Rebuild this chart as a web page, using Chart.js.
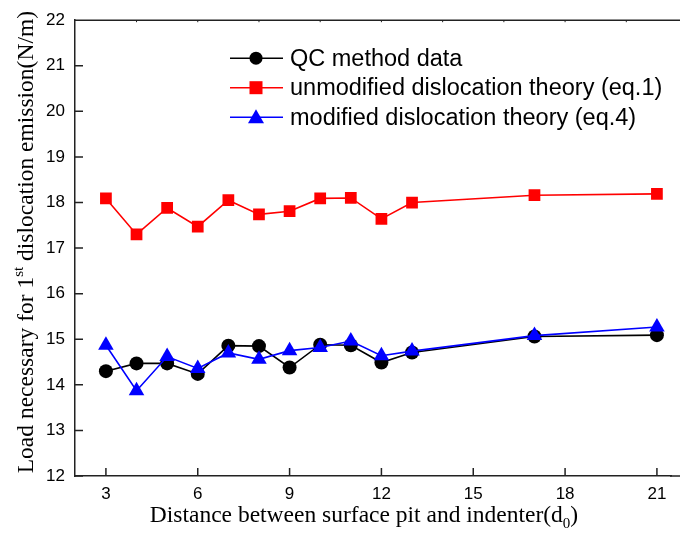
<!DOCTYPE html>
<html>
<head>
<meta charset="utf-8">
<script src="https://cdn.jsdelivr.net/npm/chart.js@4"></script>
<style>
  body { margin: 0; background: #fff; }
  #wrap { width: 680px; height: 534px; }
</style>
</head>
<body>
<div id="wrap"><canvas id="chart"></canvas></div>
<script>
const distances = [3, 4, 5, 6, 7, 8, 9, 10, 11, 12, 13, 17, 21]
const qcData = [14.30, 14.47, 14.47, 14.24, 14.86, 14.85, 14.38, 14.88, 14.87, 14.49, 14.71, 15.06, 15.09]
const unmodified = [18.09, 17.30, 17.88, 17.47, 18.05, 17.74, 17.81, 18.09, 18.10, 17.64, 18.00, 18.16, 18.19]
const modified = [14.87, 13.87, 14.62, 14.36, 14.70, 14.56, 14.75, 14.82, 14.96, 14.64, 14.74, 15.08, 15.27]
const xTicks = [3, 6, 9, 12, 15, 18, 21]
const xTopTicks = [4, 6, 8, 10, 12, 14, 16, 18, 20]
const yTicks = [12, 13, 14, 15, 16, 17, 18, 19, 20, 21, 22]

const canvas = document.querySelector('#chart')

function pts(values) {
    return distances.map((d, i) => ({ x: d, y: values[i] }))
}

// axis ticks (inward), frame top line, axis titles and legend
const extras = {
    id: 'extras',
    afterDraw(chart) {
        const ctx = chart.ctx
        const a = chart.chartArea
        const xs = chart.scales.x
        const ys = chart.scales.y
        ctx.save()
        ctx.strokeStyle = '#222'
        ctx.lineWidth = 1.5
        ctx.beginPath()
        // frame runs off the right edge of the picture
        ctx.moveTo(a.left, a.top)
        ctx.lineTo(chart.width, a.top)
        ctx.moveTo(a.right - 1, a.bottom)
        ctx.lineTo(chart.width, a.bottom)
        xTicks.forEach(v => {
            const px = xs.getPixelForValue(v)
            ctx.moveTo(px, a.bottom)
            ctx.lineTo(px, a.bottom - 8)
        })
        yTicks.forEach(v => {
            const py = ys.getPixelForValue(v)
            ctx.moveTo(a.left, py)
            ctx.lineTo(a.left + 8, py)
        })
        ctx.stroke()
        ctx.lineWidth = 1
        ctx.beginPath()
        xTopTicks.forEach(v => {
            const px = xs.getPixelForValue(v)
            ctx.moveTo(px, a.top)
            ctx.lineTo(px, a.top + 2)
        })
        ctx.stroke()

        // x title with subscript
        ctx.fillStyle = '#000'
        ctx.textBaseline = 'alphabetic'
        const big = '23.5px "Liberation Serif"'
        const small = '15px "Liberation Serif"'
        const xt1 = 'Distance between surface pit and indenter(d'
        const xt2 = '0'
        const xt3 = ')'
        ctx.font = big
        const w1 = ctx.measureText(xt1).width
        const w3 = ctx.measureText(xt3).width
        ctx.font = small
        const w2 = ctx.measureText(xt2).width
        let x0 = 364 - (w1 + w2 + w3) / 2
        const by = 522
        ctx.font = big
        ctx.fillText(xt1, x0, by)
        ctx.font = small
        ctx.fillText(xt2, x0 + w1, by + 6)
        ctx.font = big
        ctx.fillText(xt3, x0 + w1 + w2, by)

        // y title with superscript
        const yt1 = 'Load necessary for 1'
        const yt2 = 'st'
        const yt3 = ' dislocation emission(N/m)'
        ctx.translate(33, (a.top + a.bottom) / 2 - 6)
        ctx.rotate(-Math.PI / 2)
        ctx.font = big
        const v1 = ctx.measureText(yt1).width
        const v3 = ctx.measureText(yt3).width
        ctx.font = small
        const v2 = ctx.measureText(yt2).width
        let y0 = -(v1 + v2 + v3) / 2
        ctx.font = big
        ctx.fillText(yt1, y0, 0)
        ctx.font = small
        ctx.fillText(yt2, y0 + v1, -10)
        ctx.font = big
        ctx.fillText(yt3, y0 + v1 + v2, 0)
        ctx.setTransform(1, 0, 0, 1, 0, 0)

        // legend
        const lx = a.left + 155
        const ly = a.top + 38
        ctx.font = '23.5px "Liberation Sans"'
        ctx.textBaseline = 'middle'
        chart.data.datasets.forEach((ds, i) => {
            const y = ly + i * 29.5
            ctx.strokeStyle = ds.borderColor
            ctx.lineWidth = 1.5
            ctx.beginPath()
            ctx.moveTo(lx, y)
            ctx.lineTo(lx + 53, y)
            ctx.stroke()
            ctx.fillStyle = ds.backgroundColor
            const cx = lx + 26
            ctx.beginPath()
            if (ds.pointStyle === 'circle') {
                ctx.arc(cx, y, 6.5, 0, Math.PI * 2)
            } else if (ds.pointStyle === 'rect') {
                ctx.rect(cx - 6.5, y - 6.5, 13, 13)
            } else {
                ctx.moveTo(cx, y - 8)
                ctx.lineTo(cx + 8, y + 6)
                ctx.lineTo(cx - 8, y + 6)
                ctx.closePath()
            }
            ctx.fill()
            ctx.fillStyle = '#000'
            ctx.fillText(ds.label, lx + 60, y + 1)
        })
        ctx.restore()
    }
}

new Chart(canvas.getContext('2d'), {
    type: 'line',
    data: {
        datasets: [
            {
                label: 'QC method data',
                data: pts(qcData),
                borderColor: '#000',
                backgroundColor: '#000',
                pointStyle: 'circle',
                pointRadius: 7,
                order: 3
            },
            {
                label: 'unmodified dislocation theory (eq.1)',
                data: pts(unmodified),
                borderColor: '#ff0000',
                backgroundColor: '#ff0000',
                pointStyle: 'rect',
                pointRadius: 8.3,
                order: 2
            },
            {
                label: 'modified dislocation theory (eq.4)',
                data: pts(modified),
                borderColor: '#0000ff',
                backgroundColor: '#0000ff',
                pointStyle: 'triangle',
                pointRadius: 9,
                order: 1
            }
        ]
    },
    options: {
        responsive: true,
        maintainAspectRatio: false,
        animation: false,
        layout: { padding: { top: 20, right: 0, left: 0, bottom: 0 } },
        elements: {
            line: { borderWidth: 1.6, tension: 0 },
            point: { borderWidth: 0, hoverRadius: 7 }
        },
        plugins: {
            legend: { display: false },
            tooltip: { enabled: false }
        },
        scales: {
            x: {
                type: 'linear',
                min: 1.99,
                max: 21.46,
                afterBuildTicks: s => { s.ticks = xTicks.map(v => ({ value: v })) },
                afterFit: s => { s.height = 58 },
                grid: { display: false, drawTicks: false },
                border: { display: true, color: '#222', width: 1.5 },
                ticks: {
                    padding: 8,
                    color: '#000',
                    font: { family: 'Liberation Sans', size: 17 }
                }
            },
            y: {
                min: 12,
                max: 22,
                afterBuildTicks: s => { s.ticks = yTicks.map(v => ({ value: v })) },
                afterFit: s => { s.width = 75 },
                grid: { display: false, drawTicks: false },
                border: { display: true, color: '#222', width: 1.5 },
                ticks: {
                    padding: 10,
                    color: '#000',
                    font: { family: 'Liberation Sans', size: 17 }
                }
            }
        }
    },
    plugins: [extras]
})
</script>
</body>
</html>
